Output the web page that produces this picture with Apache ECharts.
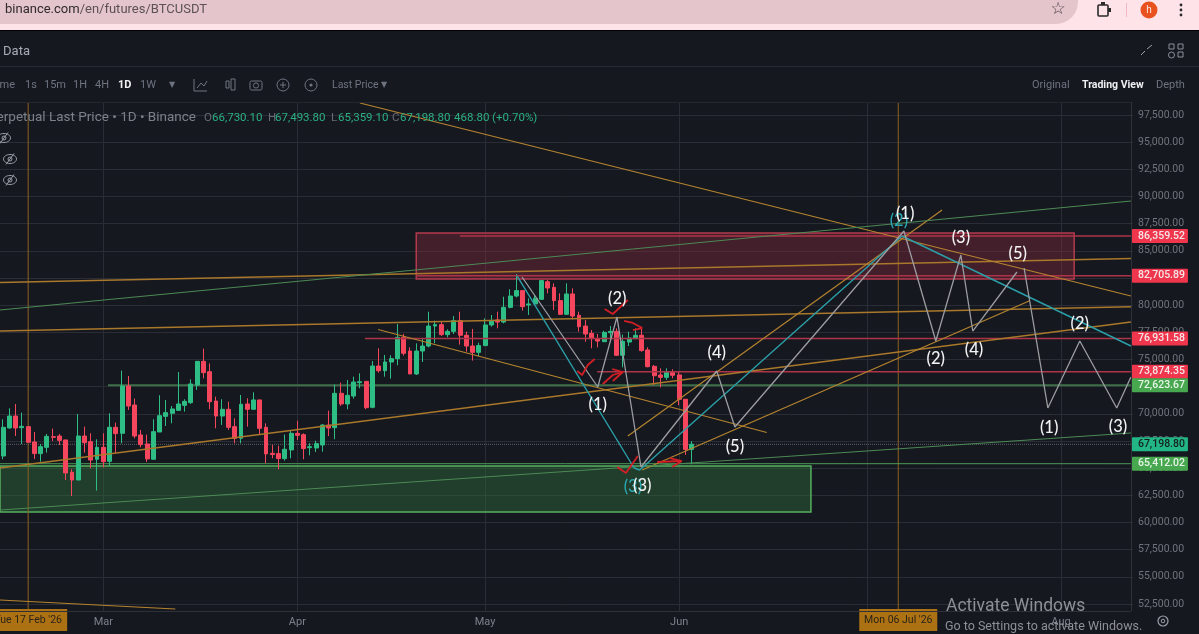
<!DOCTYPE html>
<html>
<head>
<meta charset="utf-8">
<title>BTCUSDT Perpetual 1D</title>
<style>
  html, body { margin: 0; padding: 0; background: #16181f; overflow: hidden; }
  #chart { width: 1199px; height: 634px; }
</style>
<script src="https://cdn.jsdelivr.net/npm/echarts@6/dist/echarts.min.js"></script>
</head>
<body>
<div id="chart"></div>
<script>
// Daily candles starting 13 Feb 2026: [open, close, low, high]
const candles = [
  [66120,68760,65820,69500],[68700,69800,68640,70510],[69800,68700,67960,70910],[68730,68850,67230,70110],
  [68820,67380,67380,68820],[67410,66340,65850,68330],[66340,66980,65600,67230],[66920,67930,66430,68150],
  [67900,67840,67500,68640],[67960,67560,67130,68150],[67600,64560,63910,67600],[64620,63910,62440,64900],
  [63910,67960,63910,69990],[67960,67350,66430,68820],[67440,65750,64990,68210],[65820,66920,62930,67660],
  [66920,65600,65080,68210],[65630,68760,65200,70050],[68760,68180,66370,69190],[68210,72560,67290,73970],
  [72560,70720,70360,73480],[70810,67960,67750,71400],[68060,67170,66920,68520],[67230,65850,65570,68090],
  [65820,68360,65820,69500],[68330,69830,68330,71710],[69770,70110,68880,71280],[70050,70450,69130,70720],
  [70320,70910,70290,73850],[70780,71150,70200,71340],[71030,72750,70910,73180],[72650,74830,72200,74830],
  [74830,73790,73270,76000],[73880,71120,70420,74650],[71180,69800,68670,71580],[69800,70420,68980,71340],
  [70420,68760,68520,71120],[68820,67750,67290,69590],[67750,70880,67290,71740],[70910,70420,68820,71430],
  [70420,71280,70360,71980],[71280,68670,68150,71280],[68760,66310,65450,69130],[66370,66250,65910,67140],
  [66340,65880,64900,67070],[65880,66740,65690,68090],[66680,68210,65910,68450],[68210,68020,67590,69370],
  [68080,66800,65820,68210],[66890,66980,66180,67290],[66860,67260,66490,67530],[67130,68970,66520,69070],
  [68970,68700,67960,70290],[68730,71890,67660,72690],[71890,70910,70720,72870],[70910,71700,70420,73120],
  [71640,72930,71400,73420],[72870,72960,72350,73730],[72990,70570,70420,72990],[70600,74400,70510,74860],
  [74400,73970,73790,76030],[73970,74770,73420,75420],[74770,75080,73240,75390],[75080,77040,74470,78270],
  [77040,75570,75360,77350],[75780,73670,73670,76120],[73670,75780,73580,76490],[75780,76240,74770,76950],
  [76240,78080,76120,79400],[78080,78210,76490,78580],[78210,77290,77160,78480],[77290,77590,77040,77780],
  [77590,78580,77350,79000],[78580,77230,76370,79400],[77230,76240,75720,77560],[76240,75660,74900,77810],
  [75660,76280,75320,76550],[76280,78180,76240,78790],[78180,78580,78020,79100],[78640,78450,77870,79400],
  [78450,79800,78330,80780],[79800,80840,79710,81460],[80840,81340,80720,82870],[81340,79860,79500,81340],
  [80020,80110,79100,80630],[80110,80630,80020,80940],[80540,82260,80480,82320],[82160,81580,81090,82320],
  [81640,80420,79560,82010],[80420,79160,79100,81090],[79160,81030,79100,82010],[81030,79000,78700,81550],
  [79070,78020,77560,79400],[78080,77350,76640,78640],[77410,76920,76030,77720],[76920,76700,76120,77350],
  [76640,77500,76640,77650],[77470,77590,76950,78080],[77590,75390,75320,77870],[75390,76670,74280,77290],
  [76610,76980,76240,77560],[76920,77230,76860,77870],[77230,75820,75720,78020],[75880,74340,74280,76120],
  [74370,73510,72660,74500],[73580,73360,72440,74190],[73360,73820,73120,74190],[73820,73550,73270,74100],
  [73580,71340,70790,73880],[71340,66730,66220,71340],[66730.1,67198.8,65359.1,67493.8]
];

// Axis values: day numbers count from 13 Feb 2026
const dayCount = 181;
const priceTicks = [52500,55000,57500,60000,62500,65000,67500,70000,72500,75000,77500,80000,82500,85000,87500,90000,92500,95000,97500];
const monthDays = [16, 47, 77, 108, 138, 169];
const monthNames = ['Mar', 'Apr', 'May', 'Jun', '', 'Aug'];
const priceMin = 51858;
const priceMax = 98696;
const dayEnd = 180.17;

// Drawings, as [day, price] vertices
const orangeHeavy = [
  [[-0.5,82086],[dayEnd,84295]],
  [[-0.5,77622],[dayEnd,79860]],
  [[-0.5,65017],[dayEnd,78452]]
];
const orangeThin = [
  [[57,98604],[dayEnd,80844]],
  [[59.9,77761],[122,68283]],
  [[99.8,67961],[150,88758]],
  [[102.1,64833],[163.9,80384]],
  [[-0.5,52870],[27.5,52041]]
];
const greenTrends = [
  [[-0.5,79556],[dayEnd,89586]],
  [[-0.5,61152],[dayEnd,68237]]
];
const greyWaves = [
  [[82.9,82592],[95,72470],[98.06,78911],[101.9,65109],[114,73943],[116.9,68789],[143.9,86825],[149,76703],[153,84617],[154.9,77622],[161.96,83053]],
  [[163.1,83421],[166.9,70538],[172,76703],[177.9,70538],[dayEnd,73391]]
];
const tealWave = [[82.1,82686],[100.8,65017],[101.7,64833],[143.6,86365],[dayEnd,76243]];
const redScribbles = [
  [[96.1,79648],[97.4,79186],[99.8,80476]],
  [[91.7,73943],[92.5,73575],[93.4,74494],[94.5,75047]],
  [[95.8,72746],[97.4,73575],[99,73851]],
  [[97.3,74126],[99,73851],[97.4,73022]],
  [[99.2,78544],[100.6,78360],[102.1,77899],[100.6,77715]],
  [[98.1,65109],[99.5,64557],[101.4,66121]],
  [[104.5,65569],[108.4,65660],[106.9,65109]],
  [[106.5,65936],[108.4,65660]]
];

// Horizontal levels: [first day, price]
const redLevels = [[73,86359.52],[66,82705.89],[57.8,76931.58],[94.9,73874.35]];
const greenLevels = [[16.75,72623.67]];
const thinGreenLevels = [[-0.5,65412.02]];
const lastPrice = 67198.8;

// Zones: [day from, price top, day to, price bottom]
const redZones = [[66,86640,171.1,82410]];
const greenZones = [[-0.5,65200,129.05,60967]];

// Wave counts: [day, price, text]
const tealCounts = [[100.6,63268,'(3)'],[143.1,87746,'(2)']];
const whiteCounts = [
  [98.1,80568,'(2)'],[95,70814,'(1)'],[114,75600,'(4)'],[116.9,66949,'(5)'],[102.1,63360,'(3)'],
  [144.1,88390,'(1)'],[153,86181,'(3)'],[162.1,84709,'(5)'],[149,75047,'(2)'],[155.1,75875,'(4)'],
  [172,78268,'(2)'],[167.1,68697,'(1)'],[178.1,68789,'(3)']
];

// Axis tags
const priceTags = [86359.52, 82705.89, 76931.58, 73874.35, 72623.67, 67198.8, 65412.02];
const priceTagKinds = ['down', 'down', 'down', 'down', 'up', 'last', 'up'];
const crosshairDays = [4, 143];
const crosshairTexts = ["Tue 17 Feb '26", "Mon 06 Jul '26"];

const legendHead = 'Perpetual Last Price \u2022 1D \u2022 Binance';
const legendParts = [
  ['O', 204], ['66,730.10', 212], ['H', 268], ['67,493.80', 275], ['L', 331], ['65,359.10', 338],
  ['C', 392], ['67,198.80', 400], ['468.80', 454], ['(+0.70%)', 492]
];
const intervals = [['1s',25],['15m',44],['1H',73],['4H',95],['1D',118],['1W',140]];

const UP = '#2ebd85', DOWN = '#f6465d';
const ORANGE = '#a9782b', ORANGE_THIN = '#b5842f', GRID = '#2a2d35';
const FONT = 'Roboto, "Liberation Sans", sans-serif';

const chart = echarts.init(document.getElementById('chart'), null, { renderer: 'canvas' });

const dates = [];
for (let i = 0; i < dayCount; i++) {
  dates.push(new Date(Date.UTC(2026, 1, 13 + i)).toISOString().slice(0, 10));
}

function polySeries(points, color, width, z, type) {
  return {
    type: 'line', xAxisIndex: 1, yAxisIndex: 0, data: points, symbol: 'none', silent: true, z: z,
    lineStyle: { color: color, width: width, type: type || 'solid' }
  };
}
function levelSeries(levels, color, width, z) {
  return levels.map(l => polySeries([[l[0], l[1]], [dayEnd, l[1]]], color, width, z));
}
function zoneSeries(zones, fill, stroke) {
  return {
    type: 'custom', xAxisIndex: 1, yAxisIndex: 0, silent: true, z: 1, data: zones,
    renderItem: (params, api) => {
      const a = api.coord([api.value(0), api.value(1)]);
      const b = api.coord([api.value(2), api.value(3)]);
      return {
        type: 'rect',
        shape: { x: a[0], y: a[1], width: b[0] - a[0], height: b[1] - a[1] },
        style: { fill: fill, stroke: stroke, lineWidth: 1.5 }
      };
    }
  };
}
function countSeries(marks, color, z) {
  return {
    type: 'custom', xAxisIndex: 1, yAxisIndex: 0, silent: true, z: z,
    data: marks.map(m => [m[0], m[1]]),
    renderItem: (params, api) => {
      const p = api.coord([api.value(0), api.value(1)]);
      return {
        type: 'text', x: p[0], y: p[1],
        style: { text: marks[params.dataIndex][2], fill: color, font: '500 16.5px Lato, sans-serif', textAlign: 'center', textVerticalAlign: 'middle' }
      };
    }
  };
}

const tagFill = { down: '#f0364c', up: '#47a84f', last: '#22b585' };
const tagInk = { down: '#f4e6e8', up: '#e8f4e8', last: '#16211e' };
const priceTagSeries = {
  type: 'custom', xAxisIndex: 1, yAxisIndex: 0, silent: true, z: 20,
  data: priceTags.map(p => [dayEnd, p]),
  renderItem: (params, api) => {
    const p = api.coord([api.value(0), api.value(1)]);
    const kind = priceTagKinds[params.dataIndex];
    const txt = priceTags[params.dataIndex].toLocaleString('en-US', { minimumFractionDigits: 2 });
    return {
      type: 'group', children: [
        { type: 'rect', shape: { x: p[0] + 1, y: p[1] - 7, width: 56, height: 14, r: 1 }, style: { fill: tagFill[kind] } },
        { type: 'text', x: p[0] + 7, y: p[1], style: { text: txt, fill: tagInk[kind], font: '500 10.5px ' + FONT, textAlign: 'left', textVerticalAlign: 'middle' } }
      ]
    };
  }
};
const dateTagSeries = {
  type: 'custom', xAxisIndex: 1, yAxisIndex: 0, silent: true, z: 20,
  data: crosshairDays.map(d => [d, priceMin]),
  renderItem: (params, api) => {
    const p = api.coord([api.value(0), api.value(1)]);
    return {
      type: 'group', children: [
        { type: 'rect', shape: { x: p[0] - 39, y: p[1] - 2, width: 78, height: 22 }, style: { fill: '#ab7112' } },
        { type: 'text', x: p[0], y: p[1] + 9, style: { text: crosshairTexts[params.dataIndex], fill: '#2b2418', font: '10.5px ' + FONT, textAlign: 'center', textVerticalAlign: 'middle' } }
      ]
    };
  }
};

// Browser frame and exchange toolbar
const DIM = '#6d7480';
function txt(text, x, y, fill, font, align) {
  return { type: 'text', x: x, y: y, z: 30, silent: true, style: { text: text, fill: fill, font: font, textAlign: align || 'left', textVerticalAlign: 'middle' } };
}
function stroked(type, shape, color, width) {
  return { type: type, shape: shape, z: 30, silent: true, style: { fill: 'none', stroke: color || '#8a8f98', lineWidth: width || 1 } };
}
function solid(type, shape, color) {
  return { type: type, shape: shape, z: 30, silent: true, style: { fill: color } };
}
function eyeOff(cx, cy) {
  return [
    stroked('ellipse', { cx: cx, cy: cy, rx: 6.5, ry: 4.5 }, '#9a9fa7', 1),
    stroked('circle', { cx: cx, cy: cy, r: 2 }, '#9a9fa7', 1),
    stroked('line', { x1: cx - 4, y1: cy + 5.5, x2: cx + 4, y2: cy - 5.5 }, '#9a9fa7', 1)
  ];
}
const frame = [
  solid('rect', { x: 0, y: 0, width: 1199, height: 30 }, '#fee3e8'),
  solid('rect', { x: -20, y: -20, width: 1098, height: 44, r: 22 }, '#e4c5cb'),
  solid('rect', { x: 0, y: 30, width: 1199, height: 1 }, '#000000'),
  {
    type: 'text', x: 5, y: 10, z: 30, silent: true,
    style: {
      text: '{a|binance.com}{b|/en/futures/BTCUSDT}', textVerticalAlign: 'middle',
      rich: {
        a: { fill: '#2e2a2c', font: '13px ' + FONT },
        b: { fill: '#5c5256', font: '13px ' + FONT }
      }
    }
  },
  txt('\u2606', 1058, 10, '#4a4246', '17px "DejaVu Sans"', 'center'),
  stroked('rect', { x: 1098, y: 5, width: 10, height: 11, r: 1 }, '#2a2a2a', 1.6),
  solid('rect', { x: 1101, y: 2, width: 4, height: 3 }, '#2a2a2a'),
  solid('rect', { x: 1108, y: 8, width: 3, height: 4 }, '#2a2a2a'),
  solid('rect', { x: 1126, y: 3, width: 1, height: 14 }, '#f2b8c4'),
  solid('circle', { cx: 1149, cy: 10, r: 8.5 }, '#e8521e'),
  txt('h', 1149, 10, '#fbe9e2', '10px ' + FONT, 'center'),
  solid('circle', { cx: 1181, cy: 5, r: 1.4 }, '#2a2a2a'),
  solid('circle', { cx: 1181, cy: 10, r: 1.4 }, '#2a2a2a'),
  solid('circle', { cx: 1181, cy: 15, r: 1.4 }, '#2a2a2a'),

  txt('Trading Data', 30, 52, '#a6acb6', '13px ' + FONT, 'right'),
  solid('rect', { x: 0, y: 66, width: 1199, height: 1 }, '#252a36'),
  solid('rect', { x: 0, y: 102, width: 1131, height: 1 }, '#25272e'),
  txt('Time', 15, 85, DIM, '11px ' + FONT, 'right'),
  ...intervals.map(t => txt(t[0], t[1], 85, t[0] === '1D' ? '#f0f1f3' : DIM, (t[0] === '1D' ? 'bold ' : '') + '11px ' + FONT)),
  txt('\u25BC', 172, 85, DIM, '8px "DejaVu Sans"', 'center'),
  stroked('polyline', { points: [[194, 79], [194, 91], [207, 91]] }, DIM),
  stroked('polyline', { points: [[197, 88], [201, 83], [204, 86], [207, 81]] }, DIM),
  stroked('rect', { x: 226, y: 81, width: 3, height: 7 }, DIM),
  stroked('rect', { x: 231, y: 79, width: 4, height: 11 }, DIM),
  stroked('rect', { x: 250, y: 81, width: 12, height: 9, r: 1.5 }, DIM),
  stroked('circle', { cx: 256, cy: 85.5, r: 2.6 }, DIM),
  stroked('circle', { cx: 283, cy: 85, r: 6 }, DIM),
  stroked('line', { x1: 280, y1: 85, x2: 286, y2: 85 }, DIM),
  stroked('line', { x1: 283, y1: 82, x2: 283, y2: 88 }, DIM),
  stroked('circle', { cx: 311, cy: 85, r: 6 }, DIM),
  solid('circle', { cx: 311, cy: 85, r: 1.6 }, DIM),
  txt('Last Price', 332, 85, DIM, '10.5px ' + FONT),
  txt('\u25BC', 384, 85, DIM, '8px "DejaVu Sans"', 'center'),
  txt('Original', 1032, 85, DIM, '11px ' + FONT),
  txt('Trading View', 1082, 85, '#eef0f2', 'bold 10.5px ' + FONT),
  txt('Depth', 1156, 85, DIM, '11px ' + FONT),
  stroked('line', { x1: 1141, y1: 55, x2: 1145, y2: 51 }, '#9aa0a8'),
  stroked('line', { x1: 1147, y1: 49, x2: 1152, y2: 45 }, '#9aa0a8'),
  stroked('rect', { x: 1169, y: 44, width: 5, height: 5 }, '#8a8f98'),
  stroked('rect', { x: 1178, y: 44, width: 5, height: 5 }, '#8a8f98'),
  stroked('circle', { cx: 1171.5, cy: 55, r: 3 }, '#8a8f98'),
  stroked('rect', { x: 1178, y: 52, width: 5, height: 5 }, '#8a8f98'),

  txt(legendHead, 196, 118, '#7b808a', '13.5px ' + FONT, 'right'),
  ...legendParts.map(p => txt(p[0], p[1], 118, p[0].length === 1 ? '#666c75' : '#2ab083', '11.5px ' + FONT)),
  ...eyeOff(4, 138), ...eyeOff(10, 159), ...eyeOff(10, 180),

  solid('rect', { x: 1131, y: 102, width: 1, height: 509 }, '#2e3138'),
  solid('rect', { x: 0, y: 611, width: 1131, height: 1 }, '#2e3138'),
  stroked('circle', { cx: 1163, cy: 621, r: 5 }, '#9aa0a8', 1.2),
  stroked('circle', { cx: 1163, cy: 621, r: 1.8 }, '#9aa0a8', 1),
  txt('Activate Windows', 946, 607, '#8d9096', '17.5px ' + FONT),
  txt('Go to Settings to activate Windows.', 945, 627, '#8d9096', '12.5px ' + FONT)
];

chart.setOption({
  animation: false,
  backgroundColor: '#16181f',
  graphic: { elements: frame },
  grid: { left: 0, top: 102, width: 1133, height: 509, containLabel: false },
  xAxis: [
    { type: 'category', data: dates, show: false, boundaryGap: true },
    {
      type: 'value', min: -0.5, max: 180.5, position: 'bottom',
      axisLine: { show: false },
      axisTick: { show: false, customValues: monthDays },
      splitLine: { show: true, lineStyle: { color: GRID, width: 1 } },
      axisLabel: {
        customValues: monthDays, margin: 6, color: '#7a808a', fontFamily: FONT, fontSize: 11,
        formatter: v => monthNames[monthDays.indexOf(v)] || ''
      }
    }
  ],
  yAxis: {
    type: 'value', position: 'right', min: priceMin, max: priceMax, scale: true,
    axisLine: { show: false },
    axisTick: { show: false, customValues: priceTicks },
    splitLine: { show: true, lineStyle: { color: GRID, width: 1 } },
    axisLabel: {
      customValues: priceTicks, margin: 5, color: '#6f747c', fontFamily: FONT, fontSize: 10.5,
      formatter: v => v.toLocaleString('en-US', { minimumFractionDigits: 2 })
    }
  },
  series: [
    zoneSeries(redZones, 'rgba(142,42,62,0.38)', '#b23a4e'),
    zoneSeries(greenZones, 'rgba(52,128,66,0.36)', '#55b060'),
    ...crosshairDays.map(d => polySeries([[d, priceMin], [d, priceMax]], '#8f6220', 1, 2)),
    polySeries([[-0.5, lastPrice], [dayEnd, lastPrice]], '#5d6169', 1, 2, 'dotted'),
    ...levelSeries(greenLevels, '#3f6f48', 2, 2),
    ...levelSeries(thinGreenLevels, '#4c9a58', 1, 2),
    {
      type: 'candlestick', xAxisIndex: 0, yAxisIndex: 0, data: candles, barWidth: 4.4, z: 3, silent: true,
      itemStyle: { color: UP, color0: DOWN, borderColor: UP, borderColor0: DOWN, borderWidth: 1 }
    },
    ...levelSeries(redLevels, '#ad3448', 1.4, 4),
    ...orangeHeavy.map(l => polySeries(l, ORANGE, 1.5, 4)),
    ...orangeThin.map(l => polySeries(l, ORANGE_THIN, 1.2, 4)),
    ...greenTrends.map(l => polySeries(l, '#4c8a55', 1.2, 4)),
    polySeries(tealWave, '#2a9fa8', 1.4, 4),
    ...greyWaves.map(l => polySeries(l, '#9b9da1', 1.3, 5)),
    ...redScribbles.map(l => polySeries(l, '#d21f26', 1.8, 6)),
    countSeries(tealCounts, '#2aa7b0', 7),
    countSeries(whiteCounts, '#f2f3f4', 8),
    priceTagSeries,
    dateTagSeries
  ]
});
</script>
</body>
</html>
